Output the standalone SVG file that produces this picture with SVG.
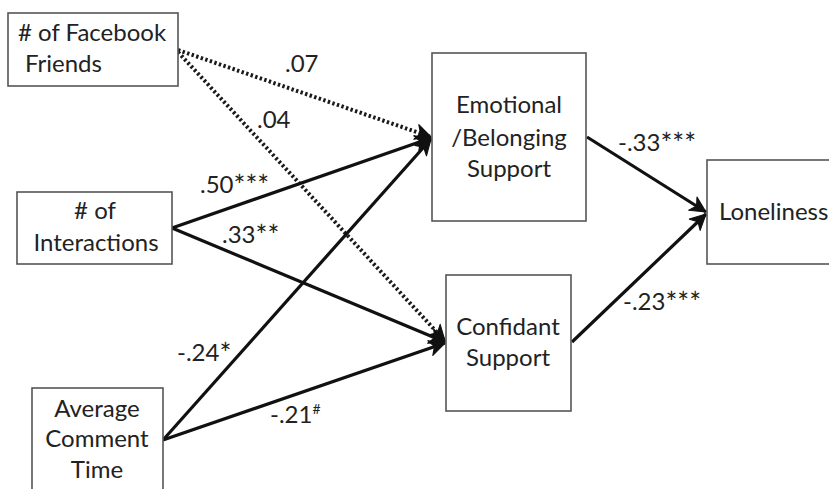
<svg xmlns="http://www.w3.org/2000/svg" width="829" height="489" viewBox="0 0 829 489">
<defs>
<style>
.box{fill:#fff;stroke:#555;stroke-width:1.6}
.t{font-family:Lato,"Open Sans","Liberation Sans",sans-serif;font-size:24px;fill:#222}
.c{text-anchor:middle}
.s{font-size:28px}
.solid{stroke:#111;stroke-width:3.2;fill:none}
.dot{stroke:#1a1a1a;stroke-width:4;fill:none;stroke-dasharray:2.4 2.4}
</style>
<marker id="ah" markerUnits="userSpaceOnUse" markerWidth="20" markerHeight="20" viewBox="-16 -8 18 16" refX="0" refY="0" orient="auto">
<path d="M0,0 L-14,-7 L-10,0 L-14,7 Z" fill="#111" stroke="#111" stroke-width="1" stroke-linejoin="round"/>
</marker>
</defs>
<rect width="829" height="489" fill="#fff"/>
<g id="connectors">
<line class="dot" x1="178" y1="50" x2="431" y2="137" marker-end="url(#ah)"/>
<line class="dot" x1="178" y1="52" x2="445" y2="341" marker-end="url(#ah)"/>
<line class="solid" x1="172" y1="228" x2="431" y2="138" marker-end="url(#ah)"/>
<line class="solid" x1="172" y1="228" x2="445" y2="342" marker-end="url(#ah)"/>
<line class="solid" x1="163" y1="440" x2="431" y2="139" marker-end="url(#ah)"/>
<line class="solid" x1="163" y1="440" x2="445" y2="343" marker-end="url(#ah)"/>
<line class="solid" x1="587" y1="137" x2="706" y2="212" marker-end="url(#ah)"/>
<line class="solid" x1="572" y1="342" x2="706" y2="214" marker-end="url(#ah)"/>
</g>
<g id="labels">
<text class="t" x="285" y="72">.07</text>
<text class="t" x="257" y="128">.04</text>
<text class="t" x="200" y="193">.50<tspan class="s" dy="3">***</tspan></text>
<text class="t" x="222" y="243">.33<tspan class="s" dy="3">**</tspan></text>
<text class="t" x="177" y="361">-.24<tspan class="s" dy="3">*</tspan></text>
<text class="t" x="270" y="423">-.21<tspan font-size="14" dy="-9">#</tspan></text>
<text class="t" x="618" y="151">-.33<tspan class="s" dy="3">***</tspan></text>
<text class="t" x="623" y="310">-.23<tspan class="s" dy="3">***</tspan></text>
</g>
<g id="node-facebook">
<rect class="box" x="8" y="13" width="170" height="73"/>
<text class="t" x="18" y="41"># of Facebook</text>
<text class="t" x="25" y="72">Friends</text>
</g>
<g id="node-interactions">
<rect class="box" x="17" y="192" width="155" height="72"/>
<text class="t c" x="95" y="219"># of</text>
<text class="t c" x="96" y="251">Interactions</text>
</g>
<g id="node-comment">
<rect class="box" x="32" y="388" width="131" height="120"/>
<text class="t c" x="97" y="417">Average</text>
<text class="t c" x="97" y="447">Comment</text>
<text class="t c" x="97" y="478">Time</text>
</g>
<g id="node-emotional">
<rect class="box" x="432" y="53" width="154" height="168"/>
<text class="t c" x="509" y="113">Emotional</text>
<text class="t c" x="509" y="146">/Belonging</text>
<text class="t c" x="509" y="177">Support</text>
</g>
<g id="node-confidant">
<rect class="box" x="446" y="275" width="125" height="136"/>
<text class="t c" x="508" y="335">Confidant</text>
<text class="t c" x="508" y="366">Support</text>
</g>
<g id="node-loneliness">
<rect class="box" x="707" y="160" width="140" height="104"/>
<text class="t" x="719" y="220">Loneliness</text>
</g>
</svg>
